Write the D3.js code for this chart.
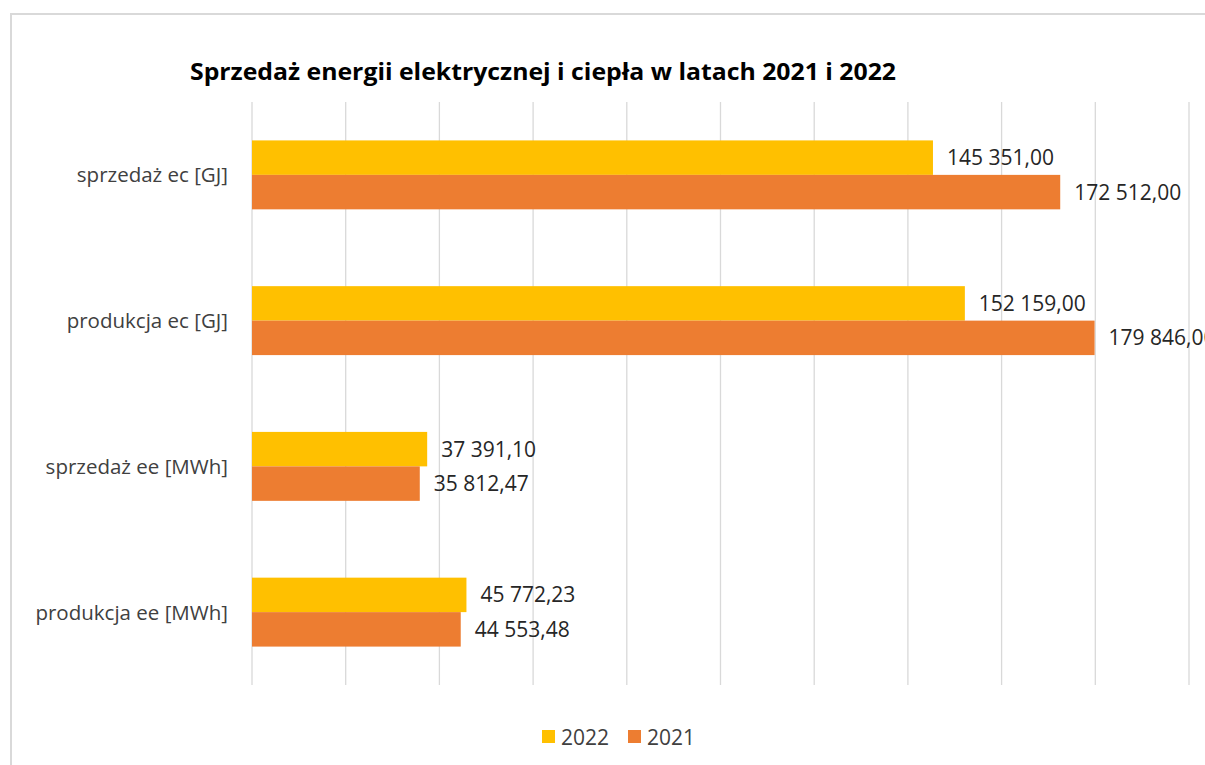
<!DOCTYPE html>
<html>
<head>
<meta charset="utf-8">
<script src="https://cdn.jsdelivr.net/npm/d3@7"></script>
<style>
  body { margin: 0; background: #fff; }
  text { font-family: "Open Sans", sans-serif; }
</style>
</head>
<body>
<script>
// categories top to bottom
var categories = ["sprzedaż ec [GJ]", "produkcja ec [GJ]", "sprzedaż ee [MWh]", "produkcja ee [MWh]"];
var seriesNames = ["2022", "2021"];
var values2022 = [145351.00, 152159.00, 37391.10, 45772.23];
var values2021 = [172512.00, 179846.00, 35812.47, 44553.48];
var xTicks = [0, 20000, 40000, 60000, 80000, 100000, 120000, 140000, 160000, 180000, 200000];

var colors = {"2022": "#FFC000", "2021": "#ED7D31"};

var W = 1205, H = 765;
var svg = d3.select("body").append("svg").attr("width", W).attr("height", H);

// outer chart border
svg.append("rect")
  .attr("x", 11).attr("y", 14)
  .attr("width", W).attr("height", H)
  .attr("fill", "#fff").attr("stroke", "#d9d9d9").attr("stroke-width", 2);

var plotTop = 102, plotBottom = 685, plotLeft = 252, plotRight = 1189;

var x = d3.scaleLinear().domain([0, 200000]).range([plotLeft, plotRight]);
var y = d3.scaleBand().domain(categories).range([plotTop, plotBottom]).paddingInner(0.527).paddingOuter(0.2635);
var y1 = d3.scaleBand().domain(seriesNames).range([0, y.bandwidth()]);

var loc = d3.formatLocale({decimal: ",", thousands: "\u00a0", grouping: [3], currency: ["", ""]});
var fmt = loc.format(",.2f");

// gridlines
svg.append("g").selectAll("line")
  .data(xTicks)
  .enter().append("line")
  .attr("x1", function(d) { return x(d); })
  .attr("x2", function(d) { return x(d); })
  .attr("y1", plotTop).attr("y2", plotBottom)
  .attr("stroke", "#d9d9d9").attr("stroke-width", 1.3);

var rows = categories.map(function(c, i) {
  return {cat: c, vals: [{s: "2022", v: values2022[i]}, {s: "2021", v: values2021[i]}]};
});

var g = svg.append("g").selectAll("g")
  .data(rows)
  .enter().append("g")
  .attr("transform", function(d) { return "translate(0," + y(d.cat) + ")"; });

g.selectAll("rect")
  .data(function(d) { return d.vals; })
  .enter().append("rect")
  .attr("x", x(0))
  .attr("y", function(d) { return y1(d.s); })
  .attr("width", function(d) { return x(d.v) - x(0); })
  .attr("height", y1.bandwidth())
  .attr("fill", function(d) { return colors[d.s]; });

g.selectAll("text.val")
  .data(function(d) { return d.vals; })
  .enter().append("text")
  .attr("class", "val")
  .attr("x", function(d) { return x(d.v) + 14; })
  .attr("y", function(d) { return y1(d.s) + y1.bandwidth() / 2; })
  .attr("dy", "0.36em")
  .attr("font-size", 21)
  .attr("fill", "#262626")
  .text(function(d) { return fmt(d.v); });

// category labels
svg.append("g").selectAll("text")
  .data(categories)
  .enter().append("text")
  .attr("x", 228)
  .attr("y", function(d) { return y(d) + y.bandwidth() / 2; })
  .attr("dy", "0.36em")
  .attr("text-anchor", "end")
  .attr("font-size", 20.5)
  .attr("fill", "#404040")
  .text(function(d) { return d; });

// title
svg.append("text")
  .attr("x", 543).attr("y", 80)
  .attr("text-anchor", "middle")
  .attr("font-size", 24)
  .attr("font-weight", "bold")
  .attr("fill", "#000")
  .attr("textLength", 706)
  .attr("lengthAdjust", "spacingAndGlyphs")
  .text("Sprzedaż energii elektrycznej i ciepła w latach 2021 i 2022");

// legend
var legendX = [542, 628];
var lg = svg.append("g").selectAll("g")
  .data(seriesNames)
  .enter().append("g")
  .attr("transform", function(d, i) { return "translate(" + legendX[i] + ",730)"; });
lg.append("rect").attr("width", 13).attr("height", 13)
  .attr("fill", function(d) { return colors[d]; });
lg.append("text").attr("x", 19).attr("y", 7).attr("dy", "0.36em")
  .attr("font-size", 21).attr("fill", "#404040")
  .text(function(d) { return d; });
</script>
</body>
</html>
